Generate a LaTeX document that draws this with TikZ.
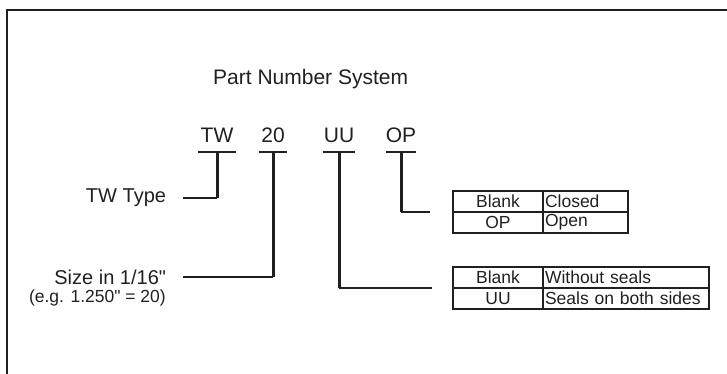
\documentclass[tikz,border=0pt]{standalone}
\usepackage{fontspec}
\setmainfont{Liberation Sans}[Ligatures=TeXOff]
\definecolor{ink}{RGB}{35,31,32}

\begin{document}
\begin{tikzpicture}[x=1pt,y=-1pt,
  every node/.style={text=ink},
  code/.style={font=\fontsize{21}{24}\selectfont, inner xsep=0pt, inner ysep=9pt, anchor=south},
  lbl/.style={font=\fontsize{20}{24}\selectfont, inner sep=0pt, outer xsep=17pt, anchor=east},
  note/.style={font=\fontsize{17.5}{20}\selectfont, inner sep=0pt, anchor=east},
  cell/.style={draw=ink, line width=1.5pt, outer sep=0pt, minimum height=21pt,
    inner xsep=2pt, inner ysep=0pt, font=\fontsize{17.5}{20}\selectfont},
  keycell/.style={cell, minimum width=90pt},
  txtcell/.style={cell, text width=#1, align=left},
  stem/.style={draw=ink, line width=3pt},
  lead/.style={draw=ink, line width=1.3pt}]
  \useasboundingbox (0,0) rectangle (727,374);
  % frame
  \draw[ink, line width=2.3pt] (727,10) -- (7,10) -- (7,374);

  \node[font=\fontsize{21}{24}\selectfont, inner sep=0pt, anchor=base west] (title) at (213,85) {Part Number System};

  % code letters
  \node[code, minimum width=38pt] (tw) at (217,152) {TW};
  \node[code, minimum width=28pt] (sz) at (273,152) {20};
  \node[code, minimum width=32pt] (uu) at (339,152) {UU};
  \node[code, minimum width=30pt] (op) at (401,152) {OP};
  \foreach \c in {tw,sz,uu,op}
    \draw[lead] (\c.south west) -- (\c.south east);

  % labels on the left
  \node[lbl] (twlbl) at (183,198) {TW Type};
  \node[lbl] (szlbl) at (183,277) {Size in 1/16"};
  \node[note] (eglbl) at (166,298) {(e.g. 1.250" = 20)};

  % tables on the right
  \node[keycell, anchor=west] (opk1) at (453,201.5) {Blank};
  \node[txtcell=81pt, anchor=west] (opt1) at (opk1.east) {Closed};
  \node[keycell, anchor=north west] (opk2) at (opk1.south west) {OP};
  \node[txtcell=81pt, anchor=west] (opt2) at (opk2.east) {Open};
  \node[keycell, anchor=west] (uuk1) at (453,277.5) {Blank};
  \node[txtcell=162pt, anchor=west] (uut1) at (uuk1.east) {Without seals};
  \node[keycell, anchor=north west] (uuk2) at (uuk1.south west) {UU};
  \node[txtcell=162pt, anchor=west] (uut2) at (uuk2.east) {Seals on both sides};
  \coordinate (opend) at (430,212);
  \coordinate (uuend) at (432,288);

  % connectors
  \draw[stem] (tw.south) -- (tw.south |- twlbl.east);
  \draw[lead] (tw.south |- twlbl.east) -- (twlbl.east);
  \draw[stem] (sz.south) -- (sz.south |- szlbl.east);
  \draw[lead] (sz.south |- szlbl.east) -- (szlbl.east);
  \draw[stem] (uu.south) -- (uu.south |- uuend);
  \draw[lead] (uu.south |- uuend) -- (uuend);
  \draw[stem] (op.south) -- (op.south |- opend);
  \draw[lead] (op.south |- opend) -- (opend);
\end{tikzpicture}
\end{document}
